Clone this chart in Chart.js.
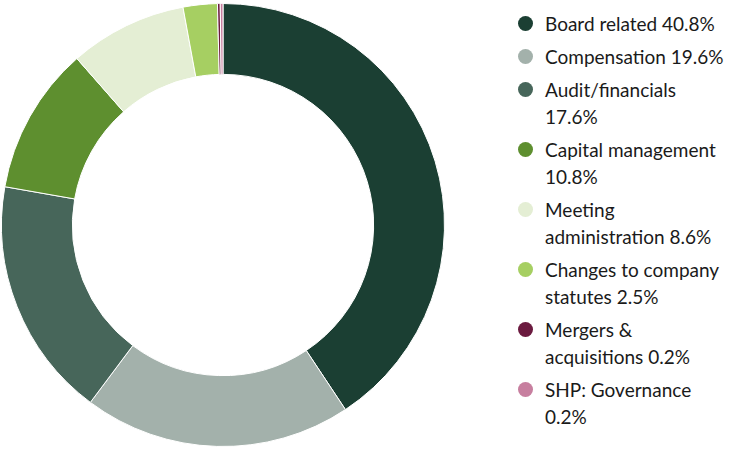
<!DOCTYPE html>
<html>
<head>
<meta charset="utf-8">
<script src="https://cdn.jsdelivr.net/npm/chart.js@4"></script>
<style>
  body { margin: 0; background: #fff; font-family: Lato, sans-serif; }
  #wrap { position: relative; width: 750px; height: 450px; }
  #chartBox { position: absolute; left: 0; top: 0; width: 446px; height: 450px; }
  #legend { position: absolute; left: 517px; top: 10px; width: 235px; color: #1a1a1a; font-size: 19px; line-height: 27px; }
  .item { position: relative; padding-left: 28px; margin-bottom: 6px; }
  .dot { position: absolute; left: 1px; top: 6px; width: 15px; height: 15px; border-radius: 50%; }
</style>
</head>
<body>
<div id="wrap">
  <div id="chartBox"><canvas id="pie"></canvas></div>
  <div id="legend"></div>
</div>
<script>
// ── DATA ─────────────────────────────────────────────
var categories = ['Board related', 'Compensation', 'Audit/financials', 'Capital management',
                  'Meeting administration', 'Changes to company statutes',
                  'Mergers & acquisitions', 'SHP: Governance'];
var values     = [40.8, 19.6, 17.6, 10.8, 8.6, 2.5, 0.2, 0.2];
var colors     = ['#1b3f33', '#a3b1ab', '#47665a', '#5e8f2f', '#e4eed4', '#a6cf62', '#6b1a3f', '#c77f9f'];
// legend labels as wrapped in the picture
var legendLines = [
  ['Board related 40.8%'],
  ['Compensation 19.6%'],
  ['Audit/financials', '17.6%'],
  ['Capital management', '10.8%'],
  ['Meeting', 'administration 8.6%'],
  ['Changes to company', 'statutes 2.5%'],
  ['Mergers &', 'acquisitions 0.2%'],
  ['SHP: Governance', '0.2%']
];

// ── LEGEND ───────────────────────────────────────────
var legend = document.getElementById('legend');
legendLines.forEach(function (lines, i) {
  var div = document.createElement('div');
  div.className = 'item';
  div.innerHTML = '<span class="dot" style="background:' + colors[i] + '"></span>' +
    lines.map(function (t) { return t.replace('&', '&amp;'); }).join('<br>');
  legend.appendChild(div);
});

// ── CHART ────────────────────────────────────────────
new Chart(document.getElementById('pie'), {
  type: 'doughnut',
  data: {
    labels: categories,
    datasets: [{
      data: values,
      backgroundColor: colors,
      borderColor: '#fff',
      borderWidth: 1
    }]
  },
  options: {
    responsive: true,
    maintainAspectRatio: false,
    cutout: '68%',
    animation: false,
    layout: { padding: 1 },
    plugins: { legend: { display: false }, tooltip: { enabled: false } }
  }
});
</script>
</body>
</html>
